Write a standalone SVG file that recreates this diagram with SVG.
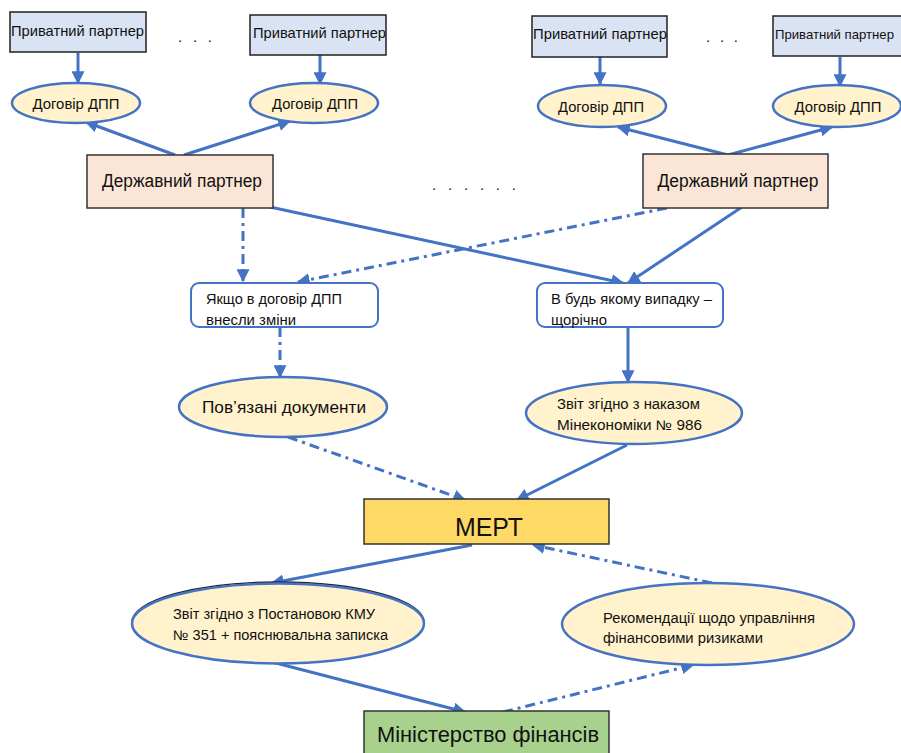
<svg xmlns="http://www.w3.org/2000/svg" width="901" height="753" viewBox="0 0 901 753">
<style>
text{font-family:"Liberation Sans",Arial,sans-serif;fill:#111;}
.pp{fill:#dae3f3;stroke:#222;stroke-width:1.5;}
.dp{fill:#fbe5d6;stroke:#333;stroke-width:1.5;}
.el{fill:#fff2cc;stroke:#4472c4;stroke-width:2.5;}
.rb{fill:#fff;stroke:#4472c4;stroke-width:2;}
.c{stroke:#4472c4;stroke-width:3;fill:none;marker-end:url(#ah);}
.dd{stroke-dasharray:10 5 3 5;}
.s14{font-size:15px;}
.s13{font-size:14px;}
</style>
<defs>
<marker id="ah" viewBox="0 0 10 10" refX="9" refY="5" markerWidth="13" markerHeight="13" markerUnits="userSpaceOnUse" orient="auto"><path d="M0,0 L10,5 L0,10 z" fill="#4472c4"/></marker>
</defs>
<rect width="901" height="753" fill="#fff"/>

<g id="connectors">
<line class="c" x1="78" y1="53" x2="78" y2="83"/>
<line class="c" x1="320" y1="55" x2="320" y2="84"/>
<line class="c" x1="600" y1="57" x2="600" y2="84"/>
<line class="c" x1="840" y1="57" x2="840" y2="86"/>
<line class="c" x1="175" y1="155" x2="86" y2="122"/>
<line class="c" x1="184" y1="155" x2="290" y2="121"/>
<line class="c" x1="728" y1="155" x2="618" y2="127"/>
<line class="c" x1="728" y1="155" x2="832" y2="127"/>
<line class="c dd" x1="243" y1="208" x2="243" y2="281"/>
<line class="c" x1="270" y1="207" x2="623" y2="283"/>
<line class="c" x1="742" y1="207" x2="628" y2="283"/>
<line class="c dd" x1="667" y1="208" x2="298" y2="282"/>
<line class="c dd" x1="280" y1="327" x2="280" y2="377"/>
<line class="c" x1="628" y1="327" x2="628" y2="382"/>
<line class="c dd" x1="288" y1="437" x2="465" y2="500"/>
<line class="c" x1="627" y1="445" x2="517" y2="500"/>
<line class="c" x1="472" y1="545" x2="272" y2="583"/>
<line class="c dd" x1="712" y1="583" x2="533" y2="545"/>
<line class="c" x1="272" y1="662" x2="465" y2="712"/>
<line class="c dd" x1="503" y1="712" x2="693" y2="665"/>
</g>

<g id="dots">
<text class="s14" x="178" y="42" textLength="34" lengthAdjust="spacing">. . .</text>
<text class="s14" x="706" y="42" textLength="32" lengthAdjust="spacing">. . .</text>
<text class="s14" x="432" y="190" textLength="84" lengthAdjust="spacing">. . . . . .</text>
</g>

<g id="pp1"><rect class="pp" x="10" y="12" width="136" height="40"/><text class="s14" x="11" y="36" textLength="133" lengthAdjust="spacingAndGlyphs">Приватний партнер</text></g>
<g id="pp2"><rect class="pp" x="250" y="15" width="136" height="40"/><text class="s14" x="253" y="38" textLength="133" lengthAdjust="spacingAndGlyphs">Приватний партнер</text></g>
<g id="pp3"><rect class="pp" x="532" y="16" width="135" height="41"/><text class="s14" x="533" y="39" textLength="134" lengthAdjust="spacingAndGlyphs">Приватний партнер</text></g>
<g id="pp4"><rect class="pp" x="773" y="16" width="140" height="40"/><text x="775" y="39" font-size="13.5" textLength="119" lengthAdjust="spacingAndGlyphs">Приватний партнер</text></g>

<g id="d1"><ellipse class="el" cx="76" cy="103" rx="64" ry="20"/><text class="s14" x="76" y="109" text-anchor="middle" textLength="87" lengthAdjust="spacingAndGlyphs">Договір ДПП</text></g>
<g id="d2"><ellipse class="el" cx="314" cy="103" rx="64" ry="20"/><text class="s14" x="315" y="109" text-anchor="middle" textLength="86" lengthAdjust="spacingAndGlyphs">Договір ДПП</text></g>
<g id="d3"><ellipse class="el" cx="602" cy="106" rx="64" ry="21"/><text class="s14" x="601" y="112" text-anchor="middle" textLength="86" lengthAdjust="spacingAndGlyphs">Договір ДПП</text></g>
<g id="d4"><ellipse class="el" cx="837" cy="106" rx="64" ry="21"/><text class="s14" x="838" y="112" text-anchor="middle" textLength="87" lengthAdjust="spacingAndGlyphs">Договір ДПП</text></g>

<g id="dp1"><rect class="dp" x="87" y="155" width="186" height="53"/><text x="182" y="187" font-size="18" text-anchor="middle" textLength="160" lengthAdjust="spacingAndGlyphs">Державний партнер</text></g>
<g id="dp2"><rect class="dp" x="643" y="154" width="185" height="54"/><text x="738" y="187" font-size="18" text-anchor="middle" textLength="161" lengthAdjust="spacingAndGlyphs">Державний партнер</text></g>

<g id="b1"><rect class="rb" x="191" y="283" width="187" height="44" rx="8"/><text class="s13" x="206" y="304" textLength="136" lengthAdjust="spacingAndGlyphs">Якщо в договір ДПП</text><text class="s13" x="206" y="325" textLength="90" lengthAdjust="spacingAndGlyphs">внесли зміни</text></g>
<g id="b2"><rect class="rb" x="537" y="283" width="186" height="44" rx="8"/><text class="s13" x="551" y="304" textLength="161" lengthAdjust="spacingAndGlyphs">В будь якому випадку –</text><text class="s13" x="551" y="325" textLength="56" lengthAdjust="spacingAndGlyphs">щорічно</text></g>

<g id="e1"><ellipse class="el" cx="283" cy="407" rx="104" ry="30"/><text x="284" y="413" font-size="17" text-anchor="middle" textLength="164" lengthAdjust="spacingAndGlyphs">Пов’язані документи</text></g>
<g id="e2"><ellipse class="el" cx="634" cy="413" rx="108" ry="31"/><text class="s13" x="557" y="409" textLength="143" lengthAdjust="spacingAndGlyphs">Звіт згідно з наказом</text><text class="s13" x="557" y="430" textLength="145" lengthAdjust="spacingAndGlyphs">Мінекономіки № 986</text></g>

<g id="mert"><rect x="364" y="499" width="245" height="45" fill="#ffd966" stroke="#333" stroke-width="1.5"/><text x="489" y="536" font-size="26" text-anchor="middle" textLength="68" lengthAdjust="spacingAndGlyphs">МЕРТ</text></g>

<g id="e3"><ellipse cx="278" cy="622" rx="146" ry="40" fill="none" stroke="#222" stroke-width="1.5"/><ellipse class="el" cx="278" cy="623.5" rx="146" ry="40"/><text class="s13" x="173" y="619" textLength="202" lengthAdjust="spacingAndGlyphs">Звіт згідно з Постановою КМУ</text><text class="s13" x="173" y="640" textLength="215" lengthAdjust="spacingAndGlyphs">№ 351 + пояснювальна записка</text></g>
<g id="e4"><ellipse class="el" cx="708" cy="624" rx="146" ry="41"/><text class="s13" x="603" y="623" textLength="212" lengthAdjust="spacingAndGlyphs">Рекомендації щодо управління</text><text class="s13" x="603" y="643" textLength="160" lengthAdjust="spacingAndGlyphs">фінансовими ризиками</text></g>

<g id="minfin"><rect x="364" y="711" width="245" height="50" fill="#a9d18e" stroke="#333" stroke-width="1.5"/><text x="377" y="742" font-size="22" textLength="222" lengthAdjust="spacingAndGlyphs">Міністерство фінансів</text></g>
</svg>
